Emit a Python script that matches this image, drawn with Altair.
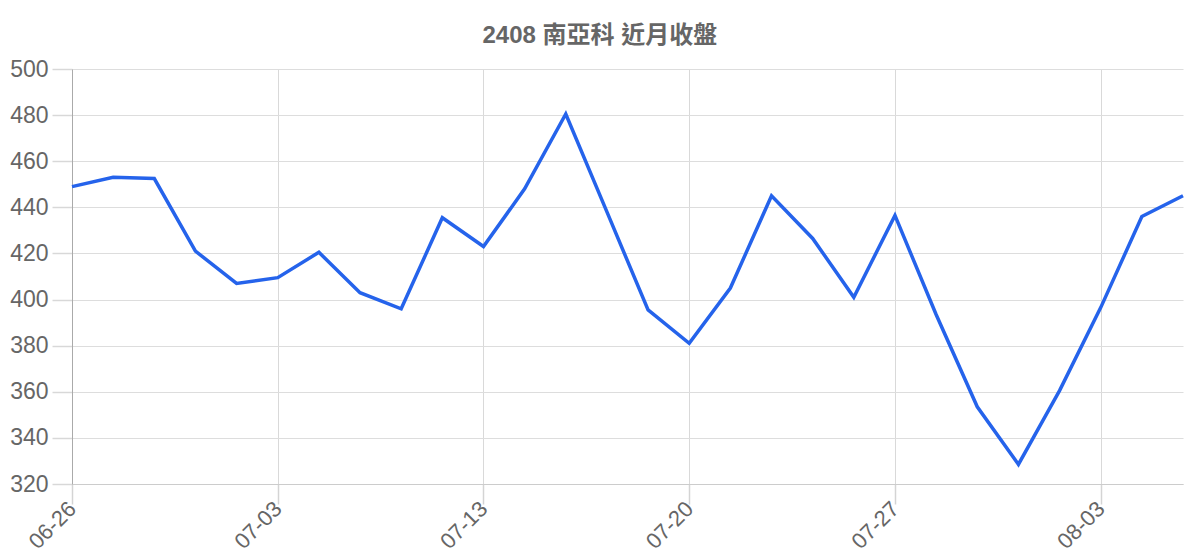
import altair as alt
import pandas as pd

dates = ["06-26", "06-27", "06-28", "06-29", "06-30", "07-03", "07-04", "07-05",
         "07-06", "07-07", "07-13", "07-14", "07-17", "07-18", "07-19", "07-20",
         "07-21", "07-24", "07-25", "07-26", "07-27", "07-28", "07-31", "08-01",
         "08-02", "08-03", "08-04", "08-07"]
closes = [449, 453, 452.5, 421, 407, 409.5, 420.5, 403, 396, 435.5, 423, 448,
          480.5, 438, 395.5, 381, 405, 445, 426.5, 401, 436.5, 393.5, 353.5,
          328.5, 360.5, 396.5, 436, 445]
tick_dates = ["06-26", "07-03", "07-13", "07-20", "07-27", "08-03"]
y_ticks = [320, 340, 360, 380, 400, 420, 440, 460, 480, 500]

df = pd.DataFrame({"date": dates, "close": closes})

font = "Liberation Sans, Arial, 'Noto Sans CJK TC', sans-serif"

base = alt.Chart(df).encode(
    x=alt.X("date:O", sort=dates,
            scale=alt.Scale(padding=0),
            axis=alt.Axis(values=tick_dates, title=None, labelAngle=-45,
                          labelAlign="right", labelBaseline="middle",
                          labelFontSize=22, labelColor="#666", labelFont=font,
                          ticks=True, tickSize=20, tickColor="#d4d4d4",
                          tickWidth=1.5, gridColor="#d9d9d9",
                          grid=True, domainColor="#cccccc", labelPadding=1)),
    y=alt.Y("close:Q",
            scale=alt.Scale(domain=[320, 500], nice=False, zero=False),
            axis=alt.Axis(values=y_ticks, title=None, labelFontSize=23,
                          labelColor="#666", labelFont=font, ticks=True,
                          tickSize=20, tickColor="#d8d8d8", tickWidth=1.5,
                          gridColor="#dddddd", grid=True,
                          domainColor="#aaaaaa", labelPadding=4)),
)

chart = base.mark_line(color="#2563eb", strokeWidth=3.5).properties(
    width=1111, height=415,
    title=alt.TitleParams("2408 南亞科 近月收盤", fontSize=24, fontWeight="bold",
                          color="#666", font=font, anchor="middle",
                          frame="bounds", offset=10),
    autosize=alt.AutoSizeParams(type="none"),
    padding={"left": 64, "top": 61, "right": 9, "bottom": 80},
).configure_axis(ticks=True, tickSize=20).configure_view(stroke=None)

chart.save("out.html", embed_options={"renderer": "svg", "actions": False})
